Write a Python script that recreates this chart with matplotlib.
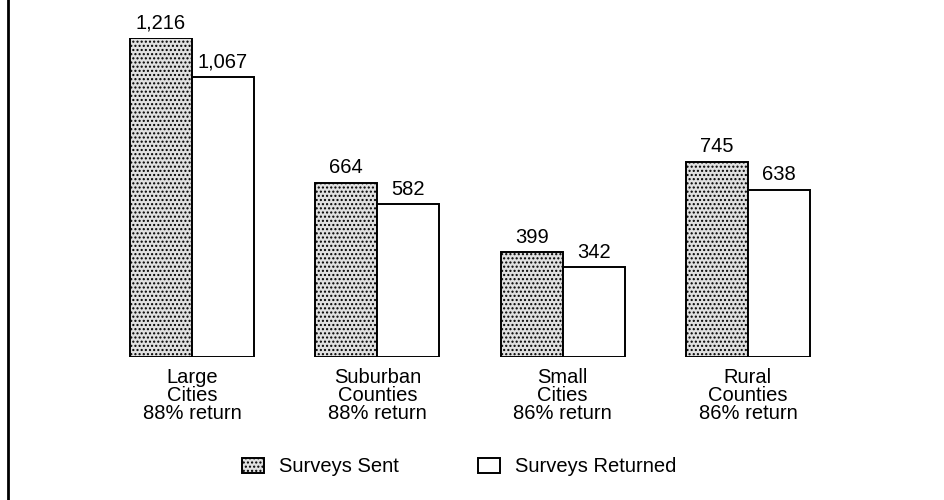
import matplotlib
matplotlib.use("Agg")
import matplotlib.pyplot as plt
from matplotlib.patches import Patch
from matplotlib.lines import Line2D
import numpy as np

plt.rcParams["font.family"] = ["Liberation Sans", "DejaVu Sans"]
plt.rcParams["hatch.linewidth"] = 1.0

categories = ["Large\nCities\n88% return", "Suburban\nCounties\n88% return",
              "Small\nCities\n86% return", "Rural\nCounties\n86% return"]
sent = [1216, 664, 399, 745]
returned = [1067, 582, 342, 638]

fig = plt.figure(figsize=(9.44, 5.0), dpi=100)
# axes placed so that the bars land where they sit in the original
ax = fig.add_axes([0, 143 / 500, 1, 319 / 500])
x = np.arange(len(categories))
w = 62 / 185.3

b1 = ax.bar(x - w / 2, sent, w, facecolor="#e0e0e0", edgecolor="black",
            hatch="....", linewidth=1.4)
b2 = ax.bar(x + w / 2, returned, w, facecolor="white", edgecolor="black",
            linewidth=1.4)

for bars, vals in ((b1, sent), (b2, returned)):
    for r, v in zip(bars, vals):
        ax.annotate(f"{v:,}", (r.get_x() + r.get_width() / 2, v),
                    xytext=(0, 4), textcoords="offset points",
                    ha="center", va="bottom", fontsize=14.5, annotation_clip=False)

for xi, lab in zip(x, categories):
    ax.annotate(lab, (xi, 0), xytext=(0, -8), textcoords="offset points",
                ha="center", va="top", fontsize=14.5, linespacing=0.93,
                annotation_clip=False)

ax.set_xlim(-192 / 185.3, (944 - 192) / 185.3)
ax.set_ylim(0, 1216)
ax.axis("off")

handles = [Patch(facecolor="#e0e0e0", edgecolor="black", hatch="....", linewidth=1.4),
           Patch(facecolor="white", edgecolor="black", linewidth=1.4)]
fig.legend(handles, ["Surveys Sent", "Surveys Returned"], ncol=2,
           loc="center", bbox_to_anchor=(459 / 944, 1 - 467 / 500),
           frameon=False, fontsize=14.5, handlelength=1.1, handleheight=0.75,
           handletextpad=0.75, columnspacing=3.9)

fig.add_artist(Line2D([8 / 944, 8 / 944], [0, 1], color="black", linewidth=2))

fig.savefig("out.png", dpi=100)
